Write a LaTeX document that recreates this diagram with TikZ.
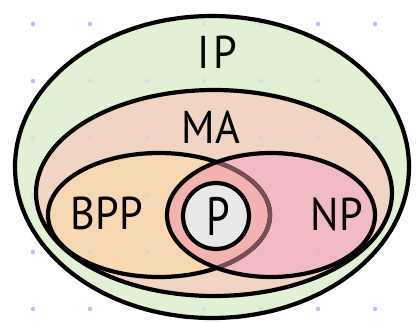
\documentclass[tikz,border=0pt]{standalone}
\usepackage{fontspec}
\setmainfont{PT Sans}
\definecolor{ipfill}{RGB}{226,240,214}
\definecolor{mafill}{RGB}{241,212,196}
\definecolor{bppfill}{RGB}{248,216,178}
\definecolor{npfill}{RGB}{242,186,194}
\definecolor{lensfill}{RGB}{243,178,176}
\definecolor{pfill}{RGB}{233,233,233}
\definecolor{dotcol}{RGB}{190,190,245}
\definecolor{fadedline}{RGB}{120,78,88}
\tikzset{
  setline/.style={line width=4.2pt, draw=black},
  lbl/.style={font=\fontsize{46}{46}\selectfont, inner sep=0pt, xscale=0.92},
  dotmark/.style={fill=dotcol, draw=none},
}
\begin{document}
\begin{tikzpicture}[x=1pt,y=-1pt]
\useasboundingbox (0,0) rectangle (416,322);
% grid dots
\foreach \i in {0,...,6}{\foreach \j in {0,...,5}{
  \fill[dotmark] (33+57*\i,24+57*\j) circle (2.2);}}
% IP
\fill[ipfill] (212,167) ellipse [x radius=197, y radius=151];
% MA
\fill[mafill] (214,193) ellipse [x radius=178, y radius=103];
% BPP and NP
\fill[bppfill] (159,215) ellipse [x radius=111, y radius=62];
\fill[npfill] (271,215) ellipse [x radius=104, y radius=62];
\begin{scope}
  \clip (159,215) ellipse [x radius=111, y radius=62];
  \fill[lensfill] (271,215) ellipse [x radius=104, y radius=62];
\end{scope}
% faint dots over fills
\foreach \i in {0,...,6}{\foreach \j in {0,...,5}{
  \fill[dotmark, opacity=0.3] (33+57*\i,24+57*\j) circle (2.2);}}
% strokes
\draw[setline] (212,167) ellipse [x radius=197, y radius=151];
\draw[setline] (214,193) ellipse [x radius=178, y radius=103];
\draw[setline] (159,215) ellipse [x radius=111, y radius=62];
\begin{scope}
  \clip (271,215) ellipse [x radius=104, y radius=62];
  \draw[line width=4.2pt, draw=fadedline] (159,215) ellipse [x radius=111, y radius=62];
\end{scope}
\draw[setline] (271,215) ellipse [x radius=104, y radius=62];
% P
\draw[setline, fill=pfill] (216,216) circle (33);
% labels
\node[lbl] (ip) at (217,52) {I\kern4pt P};
\node[lbl] (ma) at (211,127) {MA};
\node[lbl] (bpp) at (107,213) {BPP};
\node[lbl] (np) at (337,214) {NP};
\node[lbl, font=\fontsize{54}{54}\selectfont, xscale=0.85] (p) at (218,216) {P};
\end{tikzpicture}
\end{document}
